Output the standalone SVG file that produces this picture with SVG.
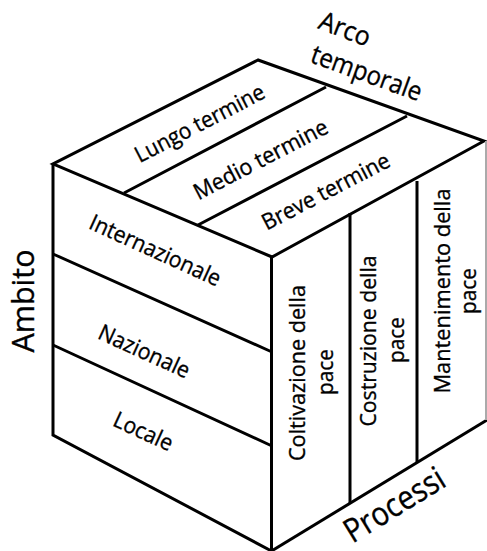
<svg xmlns="http://www.w3.org/2000/svg" width="487" height="551" viewBox="0 0 487 551">
<style>
.e{fill:none;stroke:#000;stroke-width:3;stroke-linejoin:miter;stroke-linecap:butt}
.t{font-family:"Open Sans","Noto Sans","Liberation Sans",sans-serif;font-size:22.5px;fill:#000;stroke:#000;stroke-width:0.35;text-anchor:middle}
.b{font-size:26.5px}
.h{font-size:31px}
.p{font-size:33px}
</style>
<rect width="487" height="551" fill="#fff"/>
<g id="cube">
<path class="e" d="M258,60 L53,164 L272,257 L484,141 Z"/>
<path class="e" d="M53,164 L53,435 L271.5,551 L271.5,257"/>
<path class="e" d="M271.5,551 L487,420"/>
<line x1="486" y1="141" x2="486" y2="420" stroke="#aaa" stroke-width="2"/>
</g>
<g id="dividers">
<path class="e" d="M124,193 L326,87 M198,225 L407,116"/>
<path class="e" d="M53,254 L272,352 M53,345 L272,446"/>
<path class="e" d="M350,213 L350,503 M417,181 L417,462"/>
</g>
<g id="arco-temporale">
<text class="t b" transform="translate(345,29) rotate(21)" y="9" textLength="53" lengthAdjust="spacingAndGlyphs">Arco</text>
<text class="t b" transform="translate(366,75) rotate(20)" y="7" textLength="116" lengthAdjust="spacingAndGlyphs">temporale</text>
</g>
<g id="lungo"><text class="t" transform="translate(200,124) rotate(-27.5)" y="7" textLength="143" lengthAdjust="spacingAndGlyphs">Lungo termine</text></g>
<g id="medio"><text class="t" transform="translate(261,160) rotate(-27.5)" y="7" textLength="148" lengthAdjust="spacingAndGlyphs">Medio termine</text></g>
<g id="breve"><text class="t" transform="translate(326,192) rotate(-27.5)" y="7" textLength="141" lengthAdjust="spacingAndGlyphs">Breve termine</text></g>
<g id="ambito"><text class="t h" transform="translate(23,301) rotate(-90)" y="11" textLength="103" lengthAdjust="spacingAndGlyphs">Ambito</text></g>
<g id="internazionale"><text class="t" transform="translate(155,251) rotate(24.5)" y="7" textLength="142" lengthAdjust="spacingAndGlyphs">Internazionale</text></g>
<g id="nazionale"><text class="t" transform="translate(144,352) rotate(24.5)" y="7" textLength="98" lengthAdjust="spacingAndGlyphs">Nazionale</text></g>
<g id="locale"><text class="t" transform="translate(143,432) rotate(24.5)" y="7" textLength="63" lengthAdjust="spacingAndGlyphs">Locale</text></g>
<g id="coltivazione">
<text class="t" transform="translate(305,373) rotate(-90)" textLength="176" lengthAdjust="spacingAndGlyphs">Coltivazione della</text>
<text class="t" transform="translate(333,372) rotate(-90)" textLength="46" lengthAdjust="spacingAndGlyphs">pace</text>
</g>
<g id="costruzione">
<text class="t" transform="translate(376,341) rotate(-90)" textLength="171" lengthAdjust="spacingAndGlyphs">Costruzione della</text>
<text class="t" transform="translate(404,340) rotate(-90)" textLength="46" lengthAdjust="spacingAndGlyphs">pace</text>
</g>
<g id="mantenimento">
<text class="t" transform="translate(450,291) rotate(-90)" textLength="205" lengthAdjust="spacingAndGlyphs">Mantenimento della</text>
<text class="t" transform="translate(476,291) rotate(-90)" textLength="46" lengthAdjust="spacingAndGlyphs">pace</text>
</g>
<g id="processi"><text class="t p" transform="translate(395,506) rotate(-31.5)" y="10" textLength="112" lengthAdjust="spacingAndGlyphs">Processi</text></g>
</svg>
